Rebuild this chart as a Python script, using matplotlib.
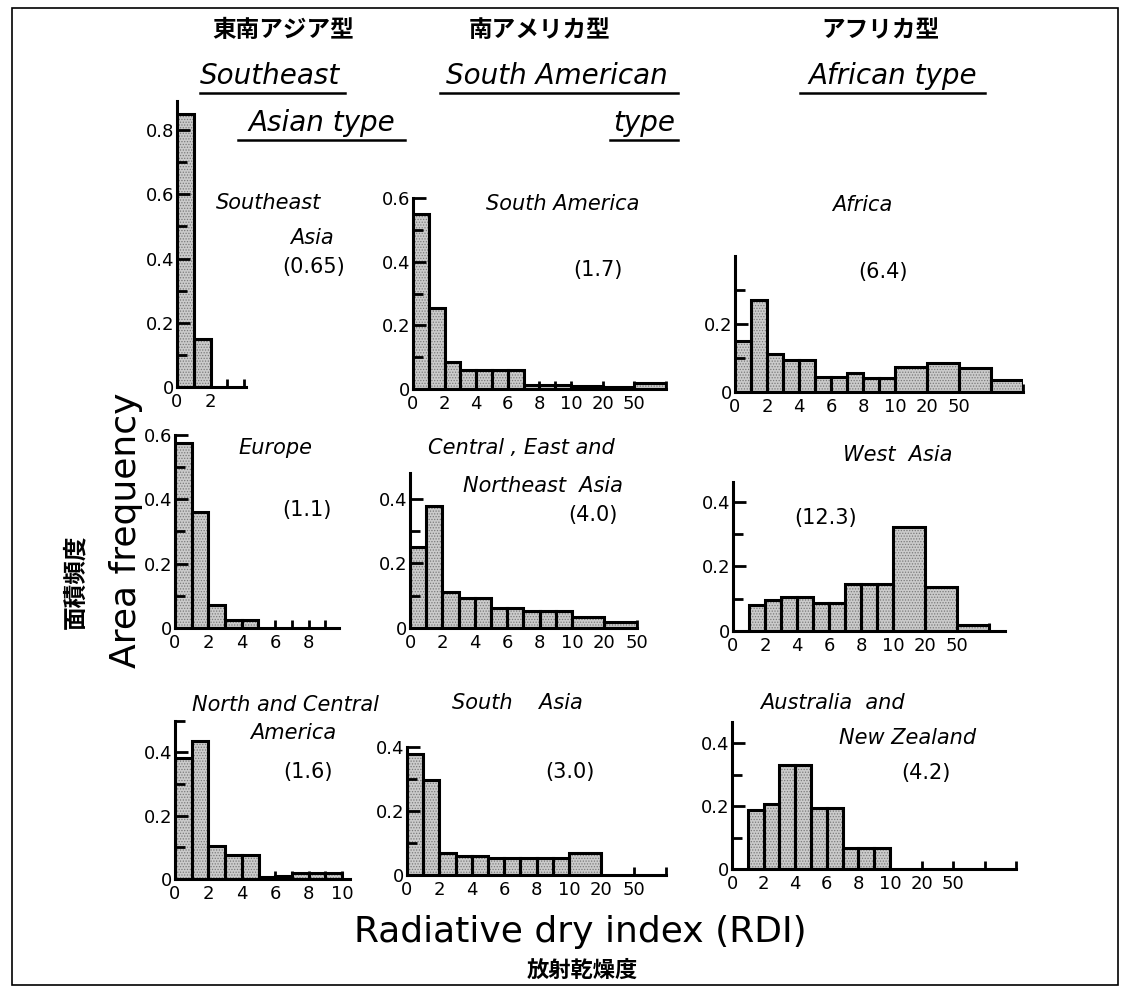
import numpy as np
import matplotlib.pyplot as plt
from matplotlib.patches import Rectangle
from matplotlib.lines import Line2D

plt.rcParams['font.family'] = ['DejaVu Sans', 'Noto Sans CJK JP']
plt.rcParams['hatch.linewidth'] = 0.6

# RDI classes (class edges); the classes above 10 get double width on the axis
rdi_edges = [0, 1, 2, 3, 4, 5, 6, 7, 8, 9, 10, 20, 50, 100, 200]
rdi_ticks = [0, 2, 4, 6, 8, 10, 20, 50]

type_jp = ['東南アジア型', '南アメリカ型', 'アフリカ型']
type_en = [['Southeast', 'Asian type'], ['South American', 'type'], ['African type']]

region_names = [['Southeast', 'Asia'], ['South America'], ['Africa'],
                ['Europe'], ['Central , East and', 'Northeast  Asia'], ['West  Asia'],
                ['North and Central', 'America'], ['South    Asia'], ['Australia  and', 'New Zealand']]
mean_rdi = ['(0.65)', '(1.7)', '(6.4)', '(1.1)', '(4.0)', '(12.3)', '(1.6)', '(3.0)', '(4.2)']

# area frequency per RDI class
se_asia       = [0.85, 0.15, 0, 0, 0, 0, 0, 0, 0, 0, 0, 0, 0, 0]
south_america = [0.55, 0.255, 0.084, 0.061, 0.061, 0.061, 0.061, 0.012, 0.012, 0.012, 0.010, 0.006, 0.019, 0]
africa        = [0.15, 0.27, 0.113, 0.094, 0.094, 0.044, 0.044, 0.056, 0.042, 0.042, 0.074, 0.084, 0.071, 0.036]
europe        = [0.575, 0.36, 0.07, 0.026, 0.026, 0, 0, 0, 0, 0, 0, 0, 0, 0]
ce_ne_asia    = [0.25, 0.378, 0.11, 0.093, 0.093, 0.062, 0.062, 0.052, 0.052, 0.052, 0.034, 0.0175, 0, 0]
west_asia     = [0, 0.081, 0.096, 0.105, 0.105, 0.087, 0.087, 0.146, 0.146, 0.146, 0.322, 0.135, 0.02, 0]
nc_america    = [0.381, 0.436, 0.105, 0.076, 0.076, 0.005, 0.01, 0.02, 0.02, 0.02, 0, 0, 0, 0]
south_asia    = [0.379, 0.298, 0.07, 0.059, 0.059, 0.052, 0.052, 0.052, 0.052, 0.052, 0.069, 0, 0, 0]
aus_nz        = [0, 0.187, 0.206, 0.329, 0.329, 0.193, 0.193, 0.067, 0.067, 0.067, 0, 0, 0, 0]

W, H = 1128, 997

knots_rdi = [0, 10, 20, 50, 100, 200]
knots_disp = [0, 10, 12, 14, 16, 18]


def fwd(x):
    return np.interp(x, knots_rdi, knots_disp)


def inv(d):
    return np.interp(d, knots_disp, knots_rdi)


# panel layout in pixels: y-axis x, baseline y, px per class, px per 0.1
panels = [
    dict(h=se_asia, x0=177, y0=387, unit=16.8, dy=32.1, ytop=0.89, xend=4.1,
         major=[0, .2, .4, .6, .8], minor=[.1, .3, .5, .7], xt=[0, 2]),
    dict(h=south_america, x0=413, y0=389, unit=15.8, dy=31.8, ytop=0.6, xend=16,
         major=[0, .2, .4, .6], minor=[.1, .3, .5], xt=rdi_ticks),
    dict(h=africa, x0=735, y0=392, unit=16, dy=34, ytop=0.4, xend=18,
         major=[0, .2], minor=[.1, .3], xt=rdi_ticks),
    dict(h=europe, x0=175, y0=628, unit=16.7, dy=32.2, ytop=0.6, xend=9.8,
         major=[0, .2, .4, .6], minor=[.1, .3, .5], xt=[0, 2, 4, 6, 8]),
    dict(h=ce_ne_asia, x0=410, y0=628, unit=16.2, dy=32.3, ytop=0.48, xend=14,
         major=[0, .2, .4], minor=[.1, .3], xt=rdi_ticks),
    dict(h=west_asia, x0=733, y0=631, unit=16, dy=32.3, ytop=0.46, xend=17,
         major=[0, .2, .4], minor=[.1, .3], xt=rdi_ticks),
    dict(h=nc_america, x0=175, y0=879, unit=16.7, dy=31.7, ytop=0.5, xend=10.5,
         major=[0, .2, .4], minor=[.1, .3, .5], xt=[0, 2, 4, 6, 8, 10]),
    dict(h=south_asia, x0=407, y0=875, unit=16.2, dy=32, ytop=0.4, xend=16,
         major=[0, .2, .4], minor=[.1, .3], xt=rdi_ticks),
    dict(h=aus_nz, x0=732, y0=869, unit=15.8, dy=31.5, ytop=0.467, xend=18,
         major=[0, .2, .4], minor=[.1, .3], xt=rdi_ticks),
]

# text positions (pixel centres) for region name lines and the mean value
name_pos = [[(268, 203), (312, 238)], [(563, 204)], [(862, 205)],
            [(275, 448)], [(521, 448), (543, 486)], [(898, 455)],
            [(285, 705), (293, 733)], [(517, 703)], [(832, 703), (908, 738)]]
mean_pos = [(314, 267), (598, 270), (883, 272), (307, 510), (593, 515),
            (826, 518), (308, 772), (570, 772), (926, 773)]

fig = plt.figure(figsize=(W / 100, H / 100), dpi=100)

lefts = np.array(rdi_edges[:-1])
rights = np.array(rdi_edges[1:])

for p in panels:
    w = p['xend'] * p['unit']
    hgt = p['ytop'] * 10 * p['dy']
    ax = fig.add_axes([p['x0'] / W, (H - p['y0']) / H, w / W, hgt / H])
    ax.set_xscale('function', functions=(fwd, inv))
    heights = np.array(p['h'])
    keep = heights > 0
    ax.bar(lefts[keep], heights[keep], width=(rights - lefts)[keep], align='edge',
           facecolor='#cbcbcb', edgecolor='#7a7a7a', hatch='......', linewidth=0, zorder=1)
    ax.bar(lefts[keep], heights[keep], width=(rights - lefts)[keep], align='edge',
           fill=False, edgecolor='black', linewidth=2.2, zorder=2)
    ax.set_xlim(0, inv(p['xend']))
    ax.set_ylim(0, p['ytop'])
    ax.set_xticks(p['xt'], [str(t) for t in p['xt']])
    ax.set_xticks([e for e in rdi_edges if fwd(e) <= p['xend']], minor=True)
    ax.set_yticks(p['major'], ['0' if v == 0 else f'{v:.1f}' for v in p['major']])
    ax.set_yticks(p['minor'], minor=True)
    ax.tick_params(axis='both', which='both', direction='in', width=2, labelsize=13, colors='black')
    ax.tick_params(axis='y', which='major', length=9, pad=2)
    ax.tick_params(axis='y', which='minor', length=7)
    ax.tick_params(axis='x', which='both', length=6, pad=4)
    for s in ['top', 'right']:
        ax.spines[s].set_visible(False)
    for s in ['left', 'bottom']:
        ax.spines[s].set_linewidth(2.2)
    ax.set_axisbelow(False)
    ax.patch.set_alpha(0)

for lines, pos in zip(region_names, name_pos):
    for txt, (x, y) in zip(lines, pos):
        fig.text(x / W, 1 - y / H, txt, ha='center', va='center', fontsize=15, style='italic')
for txt, (x, y) in zip(mean_rdi, mean_pos):
    fig.text(x / W, 1 - y / H, txt, ha='center', va='center', fontsize=15)

# type headers
jp_pos = [(283, 30), (540, 30), (880, 30)]
for txt, (x, y) in zip(type_jp, jp_pos):
    fig.text(x / W, 1 - y / H, txt, ha='center', va='center', fontsize=17,
             family='Noto Sans CJK JP', weight='bold')

en_pos = [[(270, 76, 200, 345), (322, 123, 238, 405)],
          [(557, 76, 440, 678), (644, 123, 610, 678)],
          [(893, 76, 800, 985)]]
for lines, pos in zip(type_en, en_pos):
    for txt, (x, y, u1, u2) in zip(lines, pos):
        fig.text(x / W, 1 - y / H, txt, ha='center', va='center', fontsize=20, style='italic')
        fig.add_artist(Line2D([u1 / W, u2 / W], [1 - (y + 17) / H, 1 - (y + 17) / H],
                              transform=fig.transFigure, color='black', lw=1.8))

fig.text(126 / W, 1 - 530 / H, 'Area frequency', rotation=90, ha='center', va='center', fontsize=26)
fig.text(75 / W, 1 - 582 / H, '面積頻度', rotation=90, ha='center', va='center', fontsize=17,
         family='Noto Sans CJK JP', weight='bold')
fig.text(580 / W, 1 - 932 / H, 'Radiative dry index (RDI)', ha='center', va='center', fontsize=26)
fig.text(582 / W, 1 - 970 / H, '放射乾燥度', ha='center', va='center', fontsize=16,
         family='Noto Sans CJK JP', weight='bold')

fig.add_artist(Rectangle((12 / W, 1 - 985 / H), (1118 - 12) / W, (985 - 8) / H,
                         transform=fig.transFigure, fill=False, edgecolor='black', lw=1.2))

fig.savefig('out.png', dpi=100)
